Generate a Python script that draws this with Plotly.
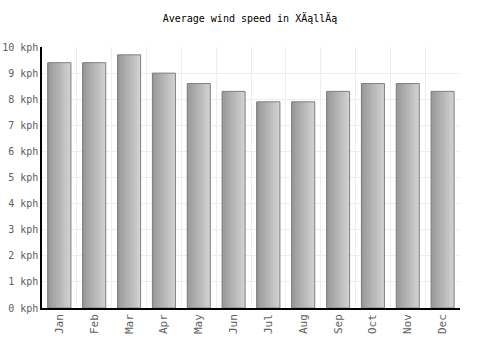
import plotly.graph_objects as go

months = ["Jan", "Feb", "Mar", "Apr", "May", "Jun", "Jul", "Aug", "Sep", "Oct", "Nov", "Dec"]
wind_kph = [9.4, 9.4, 9.7, 9.0, 8.6, 8.3, 7.9, 7.9, 8.3, 8.6, 8.6, 8.3]
ytick_vals = list(range(0, 11))
ytick_text = [f"{v} kph" for v in ytick_vals]

FONT = "DejaVu Sans Mono"
TICK_COLOR = "#606060"
fig = go.Figure()

# gradient bars: overlapping strips of the same bars
n = 14
bar_w = 0.66
strip = bar_w / n
for i in range(n):
    t = i / (n - 1)
    c = int(round(0x98 + (0xd0 - 0x98) * t))
    fig.add_trace(go.Bar(
        x=months, y=wind_kph,
        width=strip + 0.005, offset=-bar_w / 2 + i * strip,
        marker=dict(color=f"rgb({c},{c},{c})", line=dict(width=0)),
        hoverinfo="skip", showlegend=False,
    ))
# outline
fig.add_trace(go.Bar(
    x=months, y=wind_kph, width=bar_w, offset=-bar_w / 2,
    marker=dict(color="rgba(0,0,0,0)", line=dict(color="#808080", width=1)),
    showlegend=False,
))

fig.update_layout(
    width=500, height=350,
    margin=dict(l=42, r=40, t=47, b=42),
    barmode="overlay",
    plot_bgcolor="white", paper_bgcolor="white",
    title=dict(text="Average wind speed in XÄąllÄą", x=0.5, xanchor="center",
               y=1 - 18 / 350, yanchor="middle",
               font=dict(family=FONT, size=10, color="#000")),
    font=dict(family=FONT, size=10, color=TICK_COLOR),
    xaxis=dict(
        type="category", tickangle=-90, showgrid=True, tickson="boundaries",
        gridcolor="#eeeeee", gridwidth=1,
        showline=True, linecolor="#000", linewidth=1.5,
        ticks="", tickfont=dict(family=FONT, size=11, color=TICK_COLOR),
        range=[-0.5, 11.5], automargin=False,
    ),
    yaxis=dict(
        range=[0, 10], tickvals=ytick_vals, ticktext=ytick_text,
        showgrid=True, gridcolor="#eeeeee", gridwidth=1,
        showline=True, linecolor="#000", linewidth=1.5, zeroline=False,
        ticks="", tickfont=dict(family=FONT, size=10, color=TICK_COLOR),
        ticklabelstandoff=0, automargin=False,
    ),
)

fig.write_html("out.html")
